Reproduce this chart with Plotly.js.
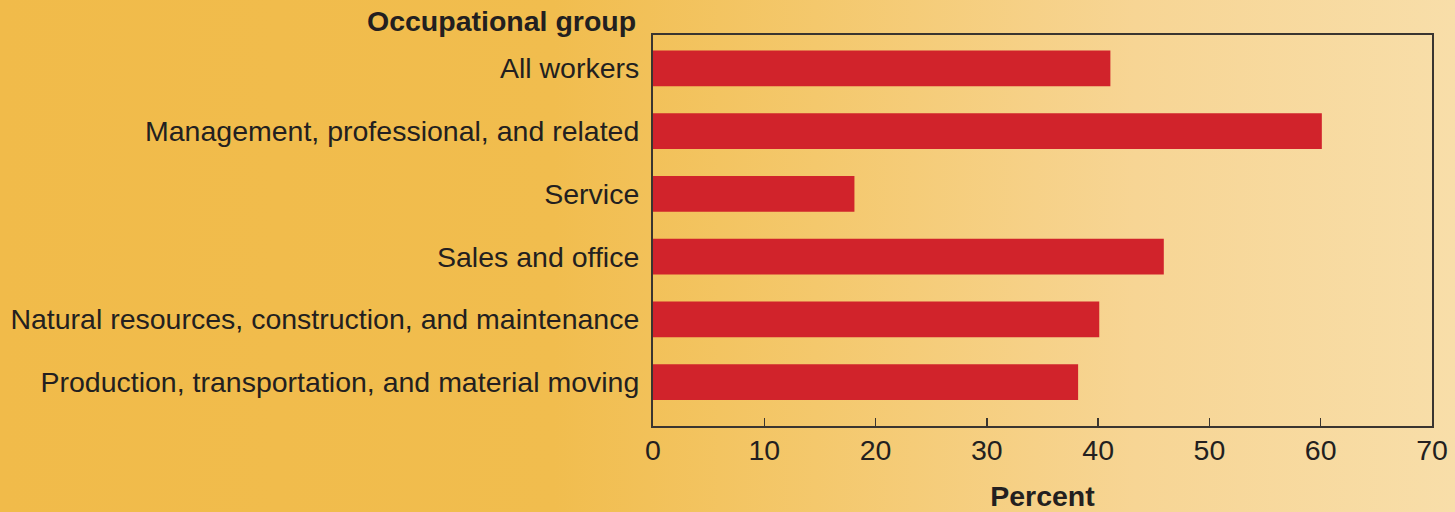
<!DOCTYPE html>
<html>
<head>
<meta charset="utf-8">
<script src="https://cdn.plot.ly/plotly-3.0.1.min.js"></script>
<style>
html,body{margin:0;padding:0;}
body{width:1455px;height:512px;overflow:hidden;
background:linear-gradient(to right,#F1BB4A 0%,#F1BD4E 38%,#F4C86C 56%,#F7D594 78%,#F8DEA9 100%);}
#chart{width:1455px;height:512px;}
</style>
</head>
<body>
<div id="chart"></div>
<script>
const categories = [
  "All workers",
  "Management, professional, and related",
  "Service",
  "Sales and office",
  "Natural resources, construction, and maintenance",
  "Production, transportation, and material moving"
];
const percentValues = [41.1, 60.1, 18.1, 45.9, 40.1, 38.2];
const xTickValues = [0, 10, 20, 30, 40, 50, 60, 70];

const FONT = "Liberation Sans, Arial, Helvetica, sans-serif";
const TXT = "#231f20";
const AX = "#3a3530";
const FS = 28.5;

const trace = {
  type: "bar",
  orientation: "h",
  y: categories,
  x: percentValues,
  marker: {color: "#D1232B", line: {width: 0}},
  width: 0.57,
  hoverinfo: "x+y"
};

const layout = {
  width: 1455, height: 512,
  paper_bgcolor: "rgba(0,0,0,0)",
  plot_bgcolor: "rgba(0,0,0,0)",
  margin: {l: 653, r: 23, t: 35, b: 86, pad: 0},
  showlegend: false,
  font: {family: FONT, color: TXT, size: FS},
  xaxis: {
    range: [0, 70],
    tickvals: xTickValues,
    ticktext: xTickValues.map(String),
    ticks: "inside", ticklen: 8, tickwidth: 1.5, tickcolor: AX,
    showline: true, linecolor: AX, linewidth: 2, mirror: true,
    showgrid: false, zeroline: false,
    ticklabelstandoff: -2,
    tickfont: {family: FONT, size: FS, color: TXT},
    title: {text: "<b>Percent</b>", font: {family: FONT, size: FS, color: TXT}, standoff: 24}
  },
  yaxis: {
    type: "category",
    categoryorder: "array", categoryarray: categories,
    range: [5.7, -0.53],
    autorange: false,
    ticks: "", showline: true, linecolor: AX, linewidth: 2, mirror: true,
    showgrid: false, zeroline: false,
    ticklabelstandoff: 6,
    tickfont: {family: FONT, size: FS, color: TXT}
  },
  annotations: [{
    text: "<b>Occupational group</b>",
    xref: "paper", yref: "paper",
    x: -0.0195, y: 1.0, xanchor: "right", yanchor: "bottom", yshift: -4,
    showarrow: false,
    font: {family: FONT, size: FS, color: TXT}
  }]
};

Plotly.newPlot("chart", [trace], layout, {displayModeBar: false, staticPlot: true});
</script>
</body>
</html>
